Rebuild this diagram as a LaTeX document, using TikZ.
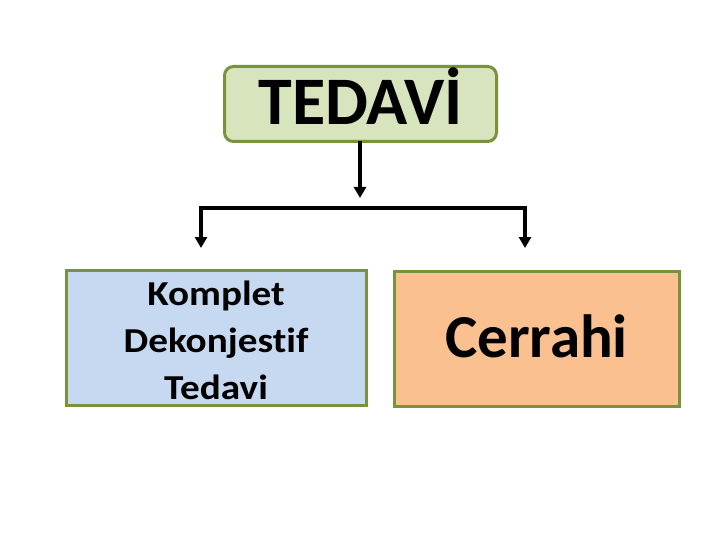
\documentclass[tikz,border=0pt]{standalone}
\usepackage{fontspec}
\setmainfont{Carlito}[Ligatures={NoCommon}]
\usetikzlibrary{arrows.meta}
\definecolor{olive}{HTML}{77933C}
\definecolor{greenfill}{HTML}{D7E4BD}
\definecolor{bluefill}{HTML}{C6D9F1}
\definecolor{orangefill}{HTML}{FAC090}
\tikzset{
  boxstyle/.style={draw=olive, line width=3pt, inner sep=0pt, outer sep=0pt},
  conn/.style={line width=3.5pt, -{Triangle[length=11pt,width=12pt]}},
}
\begin{document}
\begin{tikzpicture}[x=1pt,y=-1pt]
\useasboundingbox (0,0) rectangle (720,540);
\fill[white] (0,0) rectangle (720,540);
% top box
\node[boxstyle, fill=greenfill, rounded corners=9pt, minimum width=272pt, minimum height=75pt,
      font=\bfseries\fontsize{68}{72}\selectfont, text height=42pt, text depth=0pt]
      (top) at (360.5,104) {TEDAVİ};
% left box
\node[boxstyle, fill=bluefill, minimum width=300pt, minimum height=135pt,
      font=\bfseries\fontsize{35}{47}\selectfont]
      (left) at (216,338) {\raisebox{33pt}[0pt][0pt]{\begin{tabular}[t]{@{}c@{}}\scalebox{1.12}[1]{Komplet}\\\scalebox{1.12}[1]{Dekonjestif}\\\scalebox{1.12}[1]{Tedavi}\end{tabular}}};
% right box
\node[boxstyle, fill=orangefill, minimum width=285pt, minimum height=135pt,
      font=\bfseries\fontsize{61}{64}\selectfont, text height=38pt, text depth=0pt]
      (right) at (536.5,338.5) {Cerrahi};
% connectors
\coordinate (mid) at (360,198);
\coordinate (hl) at (201,208);
\coordinate (hr) at (525,208);
\coordinate (la) at (201,248);
\coordinate (ra) at (525,248);
\draw[conn] (top.south -| mid) -- (mid);
\draw[line width=3.5pt, {Triangle[length=11pt,width=12pt]}-{Triangle[length=11pt,width=12pt]}]
  (la) -- (hl) -- (hr) -- (ra);
\end{tikzpicture}
\end{document}
